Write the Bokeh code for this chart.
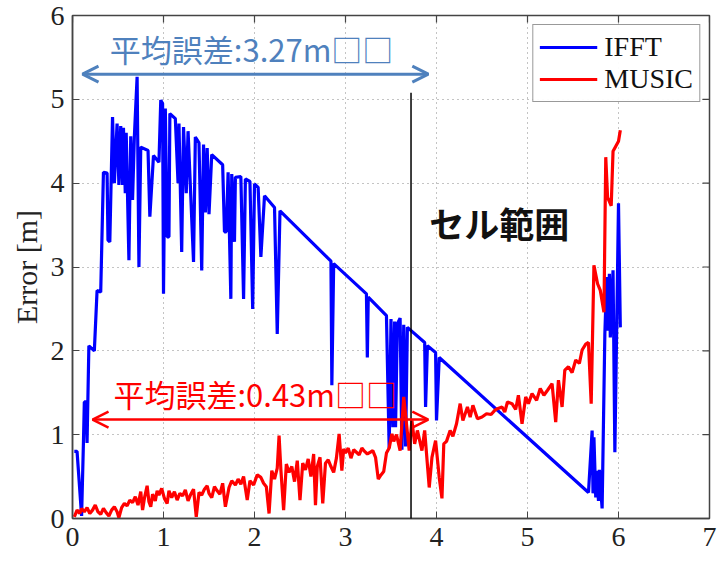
from bokeh.plotting import figure
from bokeh.models import Range1d, Label, Arrow, OpenHead, Legend, LegendItem, FixedTicker
from bokeh.embed import file_html
from bokeh.resources import INLINE

# ---------------- data ----------------
ifft_x = [0.02, 0.05, 0.10, 0.12, 0.13, 0.15, 0.16, 0.18, 0.24, 0.27,
          0.31, 0.34, 0.38, 0.39, 0.41, 0.44, 0.46, 0.49, 0.51, 0.53,
          0.55, 0.56, 0.58, 0.59, 0.62, 0.64, 0.66, 0.68, 0.71, 0.73,
          0.75, 0.83, 0.85, 0.89, 0.95, 0.97, 0.99, 1.00, 1.02, 1.04,
          1.06, 1.07, 1.13, 1.16, 1.17, 1.20, 1.22, 1.25, 1.27, 1.33,
          1.35, 1.39, 1.42, 1.44, 1.46, 1.48, 1.50, 1.53, 1.65, 1.67,
          1.69, 1.71, 1.74, 1.75, 1.78, 1.79, 1.85, 1.88, 1.90, 1.95,
          1.98, 2.00, 2.04, 2.07, 2.11, 2.22, 2.25, 2.28, 2.84, 2.85,
          2.87, 3.23, 3.24, 3.25, 3.45, 3.48, 3.50, 3.52, 3.54, 3.55,
          3.57, 3.60, 3.62, 3.64, 3.66, 3.68, 3.87, 3.88, 3.90, 3.99,
          4.00, 4.03, 5.67, 5.71, 5.72, 5.73, 5.75, 5.76, 5.78, 5.79,
          5.82, 5.85, 5.87, 5.88, 5.90, 5.91, 5.94, 5.96, 5.99, 6.00,
          6.02]
ifft_y = [0.80, 0.80, 0.03, 0.90, 1.39, 1.39, 0.90, 2.06, 2.00, 2.72,
          2.70, 4.13, 4.12, 3.32, 3.30, 4.79, 4.00, 4.71, 3.98, 4.68,
          3.98, 4.66, 3.88, 4.60, 3.08, 4.56, 3.80, 4.56, 5.27, 3.00,
          4.43, 4.39, 3.60, 4.33, 4.25, 4.99, 4.95, 2.68, 4.89, 3.36,
          3.36, 4.83, 4.77, 4.00, 4.71, 3.18, 4.67, 3.88, 4.62, 3.06,
          4.55, 4.48, 2.96, 4.46, 3.65, 4.42, 3.63, 4.34, 4.22, 3.42,
          3.42, 4.13, 2.62, 4.11, 3.30, 4.07, 4.08, 2.62, 4.05, 4.02,
          2.50, 3.99, 3.95, 3.12, 3.85, 3.71, 2.20, 3.67, 3.07, 1.59,
          3.04, 2.68, 1.92, 2.64, 2.42, 0.84, 2.38, 1.09, 2.35, 1.09,
          2.32, 2.39, 0.82, 2.31, 0.86, 2.28, 2.10, 1.33, 2.06, 1.98,
          1.17, 1.92, 0.31, 1.05, 0.30, 0.97, 0.25, 0.57, 0.21, 0.58,
          0.12, 2.20, 2.88, 2.24, 2.92, 2.16, 2.96, 0.79, 3.00, 3.76,
          2.28]

music_x = [0.02, 0.05, 0.08, 0.10, 0.13, 0.16, 0.19, 0.22, 0.25, 0.28,
           0.31, 0.34, 0.37, 0.40, 0.43, 0.46, 0.49, 0.51, 0.54, 0.57,
           0.60, 0.63, 0.66, 0.69, 0.72, 0.75, 0.77, 0.79, 0.82, 0.84,
           0.86, 0.88, 0.91, 0.93, 0.95, 0.98, 1.01, 1.04, 1.06, 1.09,
           1.12, 1.15, 1.18, 1.21, 1.24, 1.27, 1.30, 1.33, 1.36, 1.39,
           1.42, 1.45, 1.48, 1.50, 1.53, 1.56, 1.59, 1.62, 1.65, 1.68,
           1.72, 1.75, 1.79, 1.82, 1.85, 1.88, 1.92, 1.95, 1.99, 2.03,
           2.07, 2.10, 2.13, 2.16, 2.19, 2.22, 2.25, 2.27, 2.29, 2.32,
           2.35, 2.38, 2.41, 2.44, 2.47, 2.50, 2.53, 2.56, 2.59, 2.62,
           2.65, 2.67, 2.69, 2.72, 2.75, 2.78, 2.81, 2.84, 2.87, 2.90,
           2.93, 2.96, 2.98, 3.00, 3.03, 3.06, 3.09, 3.12, 3.15, 3.18,
           3.21, 3.24, 3.27, 3.30, 3.33, 3.36, 3.39, 3.42, 3.45, 3.48,
           3.51, 3.53, 3.56, 3.60, 3.64, 3.67, 3.70, 3.73, 3.76, 3.79,
           3.84, 3.87, 3.92, 3.95, 3.99, 4.03, 4.06, 4.08, 4.11, 4.15,
           4.18, 4.22, 4.26, 4.29, 4.34, 4.37, 4.40, 4.45, 4.50, 4.55,
           4.60, 4.64, 4.67, 4.72, 4.75, 4.78, 4.83, 4.87, 4.90, 4.94,
           4.98, 5.01, 5.05, 5.10, 5.14, 5.18, 5.22, 5.27, 5.31, 5.34,
           5.38, 5.41, 5.45, 5.49, 5.53, 5.57, 5.60, 5.64, 5.67, 5.70,
           5.73, 5.77, 5.80, 5.84, 5.86, 5.88, 5.92, 5.94, 6.00, 6.02]
music_y = [0.02, 0.10, 0.06, 0.12, 0.08, 0.13, 0.06, 0.10, 0.16, 0.08,
           0.05, 0.12, 0.07, 0.03, 0.10, 0.14, 0.08, 0.01, 0.13, 0.18,
           0.15, 0.22, 0.19, 0.26, 0.16, 0.32, 0.10, 0.24, 0.39, 0.20,
           0.14, 0.29, 0.21, 0.33, 0.28, 0.36, 0.24, 0.18, 0.33, 0.25,
           0.32, 0.22, 0.30, 0.27, 0.34, 0.21, 0.29, 0.35, 0.02, 0.31,
           0.28, 0.35, 0.39, 0.30, 0.25, 0.38, 0.33, 0.29, 0.42, 0.14,
           0.37, 0.45, 0.40, 0.47, 0.41, 0.50, 0.22, 0.45, 0.40, 0.52,
           0.49, 0.42, 0.38, 0.06, 0.57, 0.47, 0.60, 0.99, 0.58, 0.10,
           0.65, 0.55, 0.62, 0.44, 0.69, 0.22, 0.66, 0.58, 0.71, 0.50,
           0.77, 0.16, 0.62, 0.73, 0.18, 0.66, 0.70, 0.62, 0.55, 0.72,
           1.01, 0.57, 0.83, 0.78, 0.84, 0.72, 0.82, 0.79, 0.76, 0.84,
           0.80, 0.77, 0.79, 0.81, 0.73, 0.47, 0.52, 0.56, 0.78, 0.84,
           1.01, 0.92, 1.00, 0.81, 1.45, 1.13, 0.81, 1.17, 0.89, 1.05,
           0.81, 1.05, 0.37, 0.73, 0.93, 0.49, 0.24, 0.89, 0.92, 1.05,
           0.98, 1.13, 1.37, 1.17, 1.33, 1.21, 1.35, 1.19, 1.21, 1.25,
           1.24, 1.29, 1.31, 1.33, 1.27, 1.39, 1.37, 1.30, 1.47, 1.13,
           1.45, 1.37, 1.49, 1.41, 1.55, 1.47, 1.53, 1.61, 1.15, 1.65,
           1.33, 1.77, 1.81, 1.74, 1.89, 1.85, 2.01, 2.08, 2.10, 1.37,
           3.02, 2.80, 2.72, 2.46, 4.31, 3.83, 3.73, 4.38, 4.50, 4.63]

series_names = ["IFFT", "MUSIC"]
x_ticks = [0, 1, 2, 3, 4, 5, 6, 7]
y_ticks = [0, 1, 2, 3, 4, 5, 6]
x_max = 7
y_max = 6
cell_x = 3.72
blue_note = "平均誤差:3.27m□□"
red_note = "平均誤差:0.43m□□"
cell_note = "セル範囲"

# ---------------- figure ----------------
SERIF = "Liberation Serif"
JP = "Noto Sans CJK JP"
AXC = "#444444"

p = figure(width=722, height=582, x_range=Range1d(0, x_max), y_range=Range1d(0, y_max),
           output_backend="svg", toolbar_location=None,
           min_border_left=72, min_border_right=13, min_border_top=15, min_border_bottom=64)
p.background_fill_color = "white"
p.border_fill_color = "white"
p.outline_line_color = AXC
p.outline_line_width = 1.5

p.xaxis.ticker = FixedTicker(ticks=x_ticks)
p.yaxis.ticker = FixedTicker(ticks=y_ticks)
p.xgrid.ticker = FixedTicker(ticks=x_ticks)
p.ygrid.ticker = FixedTicker(ticks=y_ticks)
p.grid.grid_line_color = "#888888"
p.grid.grid_line_dash = "1 4"
p.grid.grid_line_width = 1

for ax in (p.xaxis[0], p.yaxis[0]):
    ax.major_label_text_font = SERIF
    ax.major_label_text_font_size = "28px"
    ax.major_label_text_color = "#222222"
    ax.axis_line_color = AXC
    ax.axis_line_width = 1.5
    ax.major_tick_in = 7
    ax.major_tick_out = 0
    ax.minor_tick_line_color = None
    ax.major_tick_line_color = AXC
p.xaxis.major_label_standoff = 9
p.yaxis.major_label_standoff = 8
p.yaxis.axis_label = "Error [m]"
p.yaxis.axis_label_text_font = SERIF
p.yaxis.axis_label_text_font_size = "30px"
p.yaxis.axis_label_text_font_style = "normal"
p.yaxis.axis_label_text_color = "#222222"
p.yaxis.axis_label_standoff = 5

# inward tick marks on top and right edges (box style), from the tick lists
tick_len_x = 7 / 83.8
tick_len_y = 7 / 91.0
p.segment(x0=x_ticks, y0=[y_max] * len(x_ticks), x1=x_ticks, y1=[y_max - tick_len_x] * len(x_ticks),
          line_color=AXC, line_width=1.2)
p.segment(x0=[x_max] * len(y_ticks), y0=y_ticks, x1=[x_max - tick_len_y] * len(y_ticks), y1=y_ticks,
          line_color=AXC, line_width=1.2)

r1 = p.line(ifft_x, ifft_y, line_color="#0000FF", line_width=3.2)
r2 = p.line(music_x, music_y, line_color="#FF0000", line_width=3.2)

legend = Legend(items=[LegendItem(label=series_names[0], renderers=[r1]),
                       LegendItem(label=series_names[1], renderers=[r2])],
                location="top_right")
legend.label_text_font = SERIF
legend.label_text_font_size = "28px"
legend.label_text_color = "#111111"
legend.border_line_color = "#333333"
legend.border_line_width = 1.5
legend.margin = 9
legend.padding = 6
legend.spacing = 0
legend.glyph_width = 58
legend.label_standoff = 7
legend.label_height = 28
legend.glyph_height = 28
p.add_layout(legend)

# vertical cell boundary line (extends below the axis)
p.add_layout(Arrow(end=None, x_start=cell_x, y_start=5.08, x_end=cell_x, y_end=-0.8,
                   line_color="black", line_width=1.5))

# annotations
BLUE_NOTE = "#4F81BD"
p.add_layout(Arrow(start=OpenHead(size=16, line_color=BLUE_NOTE, line_width=3),
                   end=OpenHead(size=16, line_color=BLUE_NOTE, line_width=3),
                   x_start=0.11, y_start=5.30, x_end=3.91, y_end=5.30,
                   line_color=BLUE_NOTE, line_width=3))
p.add_layout(Label(x=0.41, y=5.61, text=blue_note, text_font=JP, text_font_size="31px",
                   text_color=BLUE_NOTE, text_baseline="middle", text_align="left"))

p.add_layout(Arrow(start=OpenHead(size=16, line_color="#FF0000", line_width=2.5),
                   end=OpenHead(size=16, line_color="#FF0000", line_width=2.5),
                   x_start=0.22, y_start=1.18, x_end=3.91, y_end=1.18,
                   line_color="#FF0000", line_width=2.5))
p.add_layout(Label(x=0.45, y=1.49, text=red_note, text_font=JP, text_font_size="31px",
                   text_color="#FF0000", text_baseline="middle", text_align="left"))

p.add_layout(Label(x=3.92, y=3.53, text=cell_note, text_font=JP, text_font_size="35px",
                   text_font_style="bold", text_color="#111111", text_baseline="middle",
                   text_align="left"))

# x axis title, kept fully inside the canvas near the bottom edge
p.add_layout(Label(x=3.5, y=-0.735, text="X position [m]", text_font=SERIF, text_font_size="27px",
                   text_color="#222222", text_baseline="bottom", text_align="center"))

assert len(ifft_x) == len(ifft_y)
assert len(music_x) == len(music_y)

open("out.html", "w").write(file_html(p, INLINE))
